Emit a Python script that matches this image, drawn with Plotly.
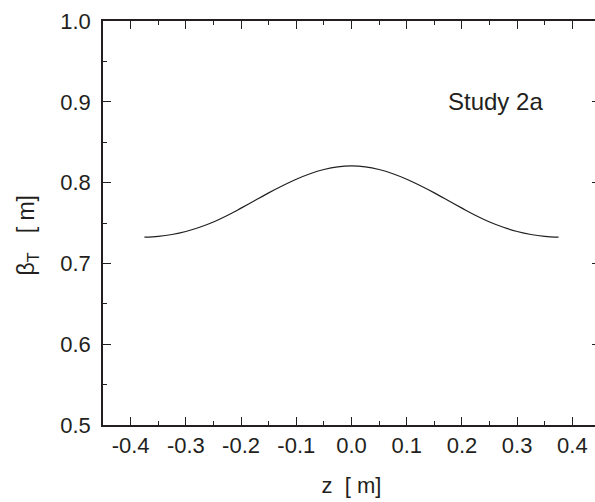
import plotly.graph_objects as go

# Data
z_m = [-0.375, -0.35, -0.325, -0.30, -0.275, -0.25, -0.225, -0.20, -0.175, -0.15,
       -0.125, -0.10, -0.075, -0.05, -0.025, 0.0,
       0.025, 0.05, 0.075, 0.10, 0.125, 0.15, 0.175, 0.20, 0.225, 0.25,
       0.275, 0.30, 0.325, 0.35, 0.375]
beta_T = [0.7324, 0.7335, 0.7358, 0.7395, 0.7447, 0.7512, 0.7592, 0.7684, 0.7779, 0.7873,
          0.7961, 0.8042, 0.8110, 0.8162, 0.8195, 0.8206,
          0.8195, 0.8162, 0.8110, 0.8042, 0.7961, 0.7873, 0.7779, 0.7684, 0.7592, 0.7512,
          0.7447, 0.7395, 0.7358, 0.7335, 0.7324]

x_tickvals = [-0.4, -0.3, -0.2, -0.1, 0.0, 0.1, 0.2, 0.3, 0.4]
x_ticktext = ["-0.4", "-0.3", "-0.2", "-0.1", "0.0", "0.1", "0.2", "0.3", "0.4"]
y_tickvals = [0.5, 0.6, 0.7, 0.8, 0.9, 1.0]
y_ticktext = ["0.5", "0.6", "0.7", "0.8", "0.9", "1.0"]

INK = "#231f20"
FONT = "Liberation Sans, Arial, sans-serif"

fig = go.Figure()
fig.add_trace(go.Scatter(x=z_m, y=beta_T, mode="lines",
                         line=dict(color=INK, width=1.2, shape="spline", smoothing=1.0),
                         showlegend=False, hoverinfo="skip"))

axis_common = dict(
    showgrid=False, zeroline=False, showline=True, linecolor=INK, linewidth=1.6,
    mirror="ticks", ticks="inside", ticklen=8, tickwidth=1.4, tickcolor=INK,
    tickfont=dict(family=FONT, size=22, color=INK),
    minor=dict(ticks="inside", ticklen=4, tickwidth=1.2, tickcolor=INK, showgrid=False),
)

fig.update_xaxes(range=[-0.45, 0.45], tickvals=x_tickvals, ticktext=x_ticktext,
                 minor_dtick=0.05, minor_tick0=0.0,
                 title=dict(text="z  [ m]", font=dict(family=FONT, size=22, color=INK), standoff=20),
                 ticklabelstandoff=0, **axis_common)
fig.update_yaxes(range=[0.5, 1.0], tickvals=y_tickvals, ticktext=y_ticktext,
                 minor_dtick=0.05, minor_tick0=0.0,
                 ticklabelstandoff=6, **axis_common)

fig.add_annotation(x=-0.152, y=0.47, xref="paper", yref="paper", text="β<sub>T</sub>   [ m]",
                   showarrow=False, textangle=-90, xanchor="center", yanchor="middle",
                   font=dict(family=FONT, size=23, color=INK))

fig.add_annotation(x=0.26, y=0.9, xref="x", yref="y", text="Study 2a", showarrow=False,
                   xanchor="center", yanchor="middle",
                   font=dict(family=FONT, size=24, color=INK))

fig.update_layout(width=610, height=502, margin=dict(l=103, r=8, t=21, b=75),
                  paper_bgcolor="white", plot_bgcolor="white")

fig.write_html("out.html",
               post_script="document.documentElement.style.overflow='hidden';document.body.style.overflow='hidden';document.body.style.margin='0';")
